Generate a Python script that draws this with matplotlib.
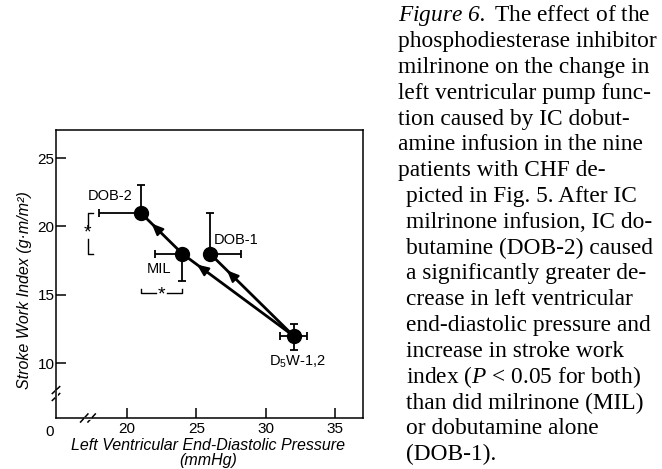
import matplotlib
matplotlib.use("Agg")
import matplotlib.pyplot as plt
from matplotlib import rcParams

rcParams['font.family'] = 'sans-serif'
rcParams['font.sans-serif'] = ['Liberation Sans']
rcParams['mathtext.fontset'] = 'custom'
rcParams['mathtext.rm'] = 'Liberation Serif:italic'
rcParams['mathtext.it'] = 'Liberation Serif:italic'
rcParams['mathtext.sf'] = 'Liberation Sans'
rcParams['axes.linewidth'] = 1.1

# data
labels = ['DOB-2', 'MIL', 'DOB-1', 'D$_\\mathsf{5}$W-1,2']
lvedp = [21.0, 24.0, 26.0, 32.0]
swi = [21.0, 18.0, 18.0, 12.0]
lvedp_lo = [3.0, 2.0, 0.0, 1.0]
lvedp_hi = [0.0, 0.0, 2.2, 1.0]
swi_lo = [0.0, 2.0, 0.0, 1.0]
swi_hi = [2.0, 0.0, 3.0, 0.9]

# arrows: (from, to, position of arrow head along segment)
arrows = [(3, 1, 0.87), (1, 0, 0.74), (3, 2, 0.80)]

xticks = [20, 25, 30, 35]
yticks = [10, 15, 20, 25]

caption = [
    ("$\\mathrm{Figure\\ 6.}$ The effect of the", 0),
    ("phosphodiesterase inhibitor", 0),
    ("milrinone on the change in", 0),
    ("left ventricular pump func-", 0),
    ("tion caused by IC dobut-", 0),
    ("amine infusion in the nine", 0),
    ("patients with CHF de-", 0),
    ("picted in Fig. 5. After IC", 1),
    ("milrinone infusion, IC do-", 1),
    ("butamine (DOB-2) caused", 1),
    ("a significantly greater de-", 1),
    ("crease in left ventricular", 1),
    ("end-diastolic pressure and", 1),
    ("increase in stroke work", 1),
    ("index ($P$ < 0.05 for both)", 1),
    ("than did milrinone (MIL)", 1),
    ("or dobutamine alone", 1),
    ("(DOB-1).", 1),
]

fig = plt.figure(figsize=(6.62, 4.69), dpi=100)
ax = fig.add_axes([56/662, 1-418/469, 307/662, 288/469])

ax.errorbar(lvedp, swi, xerr=[lvedp_lo, lvedp_hi], yerr=[swi_lo, swi_hi],
            fmt='none', ecolor='black', elinewidth=1.3, capsize=3, capthick=1.3, zorder=2)

for i, j, f in arrows:
    x0, y0, x1, y1 = lvedp[i], swi[i], lvedp[j], swi[j]
    ax.plot([x0, x1], [y0, y1], color='black', lw=2.0, zorder=3)
    tx, ty = x0 + f*(x1-x0), y0 + f*(y1-y0)
    bx, by = x0 + (f-0.08)*(x1-x0), y0 + (f-0.08)*(y1-y0)
    ax.annotate('', xy=(tx, ty), xytext=(bx, by),
                arrowprops=dict(arrowstyle='-|>,head_length=0.7,head_width=0.3',
                                color='black', lw=1.5, shrinkA=0, shrinkB=0), zorder=4)

ax.plot(lvedp, swi, 'o', color='black', ms=10, zorder=5)

offsets = [(-22, 12), (-17, -11), (19, 10), (3, -19)]
for lab, x, y, off in zip(labels, lvedp, swi, offsets):
    ax.annotate(lab, (x, y), xytext=off, textcoords='offset points',
                ha='center', va='center', fontsize=10.5)

# significance brackets
bx, by0, by1 = 17.2, 18.0, 21.0
bm = (by0 + by1) / 2
ax.plot([bx+0.35, bx, bx], [by1, by1, bm+0.45], color='black', lw=1.0, clip_on=False)
ax.plot([bx+0.35, bx, bx], [by0, by0, bm-0.45], color='black', lw=1.0, clip_on=False)
ax.text(bx, bm, '*', ha='center', va='center', fontsize=14)
hy, hx0, hx1 = 15.1, 21.0, 24.0
hm = (hx0 + hx1) / 2
ax.plot([hx0, hx0, hm-0.4], [hy+0.35, hy, hy], color='black', lw=1.0)
ax.plot([hx1, hx1, hm+0.4], [hy+0.35, hy, hy], color='black', lw=1.0)
ax.text(hm, hy-0.1, '*', ha='center', va='center', fontsize=14)

ax.set_xlim(14.9, 37.0)
ax.set_ylim(6.0, 27.05)
ax.set_xticks(xticks)
ax.set_yticks(yticks)
ax.tick_params(direction='in', length=7, width=1.1, labelsize=11, pad=3,
               top=False, right=False)
ax.tick_params(axis='y', pad=1)
ax.text(-0.02, -0.025, '0', transform=ax.transAxes, ha='center', va='top', fontsize=11)

# axis breaks
def brk(xc, yc, horiz):
    for d in (-0.012, 0.012):
        if horiz:
            ax.plot([xc+d-0.012, xc+d+0.012], [-0.014, 0.014], transform=ax.transAxes,
                    color='black', lw=1.1, clip_on=False)
        else:
            ax.plot([-0.012, 0.012], [yc+d-0.012, yc+d+0.012], transform=ax.transAxes,
                    color='black', lw=1.1, clip_on=False)
    if horiz:
        ax.plot([xc-0.008, xc+0.008], [0, 0], transform=ax.transAxes, color='white',
                lw=2, clip_on=False)
    else:
        ax.plot([0, 0], [yc-0.008, yc+0.008], transform=ax.transAxes, color='white',
                lw=2, clip_on=False)

brk(0.104, 0, True)
brk(0, 0.085, False)

fig.text(25/662, 1-290/469, 'Stroke Work Index (g·m/m²)', rotation=90,
         ha='center', va='center', fontsize=11.5, style='italic')
fig.text(208/662, 1-453/469, 'Left Ventricular End-Diastolic Pressure\n(mmHg)',
         ha='center', va='center', fontsize=11.5, style='italic', linespacing=0.95)

for k, (line, ind) in enumerate(caption):
    x = 398 if ind == 0 else 406
    fig.text(x/662, 1-(16 + 25.8*k)/469, line, ha='left', va='center',
             fontsize=16.8, family='Liberation Serif')

fig.savefig('out.png', dpi=100)
